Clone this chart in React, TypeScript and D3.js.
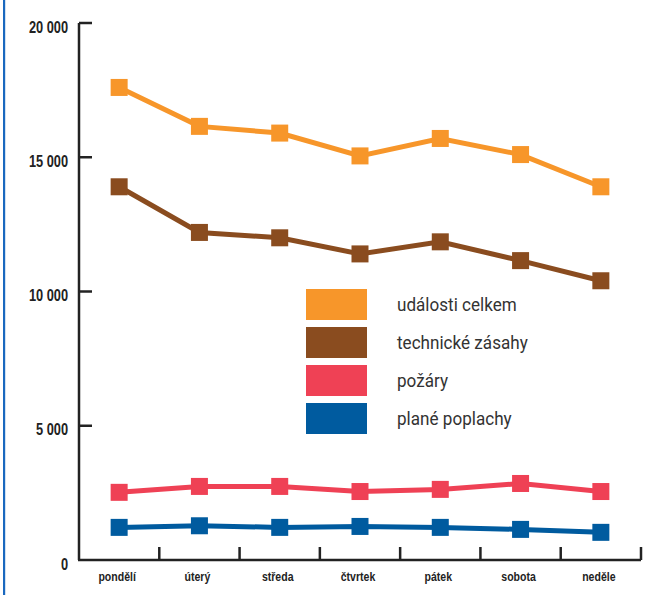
import React from "react";
import * as d3 from "d3";

const days = ["pondělí", "úterý", "středa", "čtvrtek", "pátek", "sobota", "neděle"];
const seriesNames = ["události celkem", "technické zásahy", "požáry", "plané poplachy"];
const seriesColors = ["#F7962A", "#8A4C1F", "#EF4155", "#005B9F"];
const udalostiCelkem = [17600, 16150, 15900, 15050, 15700, 15100, 13900];
const technickeZasahy = [13900, 12200, 12000, 11400, 11850, 11150, 10400];
const pozary = [2520, 2740, 2740, 2550, 2630, 2850, 2550];
const planePoplachy = [1215, 1275, 1215, 1250, 1215, 1140, 1030];
const yTicks = [0, 5000, 10000, 15000, 20000];

const seriesValues = [udalostiCelkem, technickeZasahy, pozary, planePoplachy];

const W = 650;
const H = 595;
const BOLD_FONT = "'Liberation Sans', Arial, sans-serif";
const LEGEND_FONT = "Roboto, 'Liberation Sans', sans-serif";

export default function App() {
  const x = d3.scaleBand<string>().domain(days).range([79, 641]).padding(0);
  const y = d3.scaleLinear().domain([0, 20000]).range([560, 23]);
  const cx = (d: string) => (x(d) as number) + x.bandwidth() / 2;
  const line = d3
    .line<number>()
    .x((_, i) => cx(days[i]))
    .y((v) => y(v));
  const ms = 17;
  const axisColor = "#222";

  return (
    <svg
      width={W}
      height={H}
      style={{ position: "absolute", left: 0, top: 0, background: "#fff" }}
    >
      <rect x={3} y={0} width={2.2} height={H} fill="#1a68bf" />

      {/* y axis */}
      <line x1={79} x2={79} y1={y(20000)} y2={y(0)} stroke={axisColor} strokeWidth={2.5} />
      {yTicks.map((t) => (
        <g key={t}>
          {t > 0 && (
            <line x1={79} x2={92} y1={y(t)} y2={y(t)} stroke={axisColor} strokeWidth={2.5} />
          )}
          <text
            transform={`translate(68, ${y(t) + 9.5}) scale(0.8, 1)`}
            textAnchor="end"
            fontFamily={BOLD_FONT}
            fontWeight="bold"
            fontSize={16}
            fill="#222"
          >
            {d3.format(",")(t).replace(/,/g, " ")}
          </text>
        </g>
      ))}

      {/* x axis */}
      <line x1={78} x2={641} y1={y(0)} y2={y(0)} stroke={axisColor} strokeWidth={2.5} />
      {days.map((d, i) => {
        const bx = (x(d) as number) + x.bandwidth();
        return (
          <line
            key={"t" + i}
            x1={bx}
            x2={bx}
            y1={y(0)}
            y2={547}
            stroke={axisColor}
            strokeWidth={2.5}
          />
        );
      })}
      {days.map((d) => (
        <text
          key={"l" + d}
          transform={`translate(${cx(d) - 2}, 581) scale(0.78, 1)`}
          textAnchor="middle"
          fontFamily={BOLD_FONT}
          fontWeight="bold"
          fontSize={13.5}
          fill="#222"
        >
          {d}
        </text>
      ))}

      {/* series */}
      {seriesValues.map((vals, si) => (
        <g key={"s" + si}>
          <path d={line(vals) || ""} fill="none" stroke={seriesColors[si]} strokeWidth={5} />
          {vals.map((v, i) => (
            <rect
              key={i}
              x={cx(days[i]) - ms / 2}
              y={y(v) - ms / 2}
              width={ms}
              height={ms}
              fill={seriesColors[si]}
            />
          ))}
        </g>
      ))}

      {/* legend */}
      {seriesNames.map((n, i) => (
        <g key={"lg" + i} transform={`translate(306, ${289 + i * 38})`}>
          <rect x={0} y={0} width={61} height={31} fill={seriesColors[i]} />
          <text
            transform={`translate(91, 21.5) scale(0.95, 1)`}
            fontFamily={LEGEND_FONT}
            fontSize={18}
            fill="#333"
          >
            {n}
          </text>
        </g>
      ))}
    </svg>
  );
}
